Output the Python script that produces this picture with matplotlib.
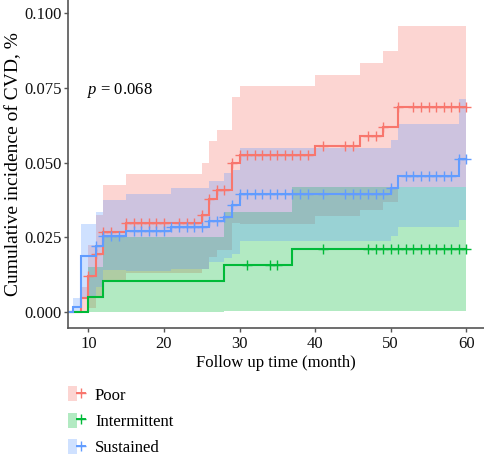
import numpy as np
import matplotlib
matplotlib.use("Agg")
import matplotlib.pyplot as plt
from matplotlib.patches import Patch
from matplotlib.lines import Line2D
from matplotlib.legend_handler import HandlerTuple

plt.rcParams['font.family'] = ['Liberation Serif', 'DejaVu Serif']
plt.rcParams['mathtext.fontset'] = 'custom'
plt.rcParams['mathtext.rm'] = 'Liberation Serif'
plt.rcParams['mathtext.it'] = 'Liberation Serif:italic'

# ---------------- data ----------------
groups = ["Poor", "Intermittent", "Sustained"]
colors = ["#F8766D", "#00BA38", "#619CFF"]
end_time = 60

poor_time = [0, 9, 10, 11, 12, 15, 25, 26, 27, 29, 30, 40, 46, 49, 51]
poor_cum = [0, 0.0048, 0.0120, 0.0193, 0.0269, 0.0297, 0.0325, 0.0378, 0.0408,
            0.0498, 0.0525, 0.0557, 0.0589, 0.0620, 0.0686]
poor_lower = [0, 0.0, 0.0012, 0.0046, 0.0107, 0.0129, 0.0145, 0.0185, 0.0207,
              0.0297, 0.0295, 0.0320, 0.0341, 0.0367, 0.0420]
poor_upper = [0, 0.0085, 0.0224, 0.0325, 0.0425, 0.0462, 0.0498, 0.0572, 0.0609,
              0.0719, 0.0756, 0.0793, 0.0834, 0.0874, 0.0957]
poor_censor = [10, 11, 12, 13, 15, 16, 17, 18, 19, 20, 22, 23, 24, 25, 26, 27, 28,
               29, 30, 31, 32, 33, 34, 35, 36, 37, 38, 39, 41, 44, 45, 47, 48, 49,
               51, 53, 54, 55, 56, 57, 58, 59, 60]

inter_time = [0, 10, 12, 28, 37]
inter_cum = [0, 0.0051, 0.0104, 0.0157, 0.0211]
inter_lower = [0, 0.0, 0.0001, 0.0002, 0.0004]
inter_upper = [0, 0.0152, 0.0252, 0.0336, 0.0418]
inter_censor = [31, 34, 35, 41, 47, 48, 49, 50, 51, 52, 53, 54, 55, 56, 57, 58, 59, 60]

sus_time = [0, 8, 9, 11, 12, 15, 21, 26, 28, 29, 30, 50, 51, 59]
sus_cum = [0, 0.0016, 0.0188, 0.0221, 0.0254, 0.0271, 0.0286, 0.0305, 0.0319,
           0.0358, 0.0395, 0.0416, 0.0456, 0.0511]
sus_lower = [0, 0.0, 0.0050, 0.0085, 0.0141, 0.0137, 0.0145, 0.0168, 0.0180,
             0.0195, 0.0236, 0.0253, 0.0286, 0.0308]
sus_upper = [0, 0.0046, 0.0295, 0.0334, 0.0375, 0.0395, 0.0414, 0.0438, 0.0464,
             0.0475, 0.0548, 0.0576, 0.0629, 0.0713]
sus_censor = [11, 12, 13, 14, 16, 17, 18, 19, 20, 21, 22, 23, 24, 25, 26, 27, 28,
              29, 30, 31, 32, 33, 34, 35, 36, 37, 38, 39, 41, 44, 45, 46, 47, 48,
              49, 50, 52, 53, 54, 55, 56, 57, 58, 59, 60]

x_ticks = [10, 20, 30, 40, 50, 60]
y_ticks = [0.000, 0.025, 0.050, 0.075, 0.100]
y_tick_labels = ["0.000", "0.025", "0.050", "0.075", "0.100"]
x_label = "Follow up time (month)"
y_label = "Cumulative incidence of CVD, %"
p_text = r"$p$ = 0.068"

series = [
    (poor_time, poor_cum, poor_lower, poor_upper, poor_censor),
    (inter_time, inter_cum, inter_lower, inter_upper, inter_censor),
    (sus_time, sus_cum, sus_lower, sus_upper, sus_censor),
]

# ---------------- plot ----------------
W, H = 484, 458
fig = plt.figure(figsize=(W / 100, H / 100), dpi=100)
ax = fig.add_axes([68.3 / W, (H - 328) / H, (W - 68.3) / W, 328 / H])

for (t, v, lo, hi, cens), c in zip(series, colors):
    tt = np.append(np.array(t, float), end_time)
    lo_a = np.append(lo, lo[-1])
    hi_a = np.append(hi, hi[-1])
    ax.fill_between(tt, lo_a, hi_a, step='post', color=c, alpha=0.3, lw=0)

for (t, v, lo, hi, cens), c in zip(series, colors):
    tt = np.append(np.array(t, float), end_time)
    vv = np.append(v, v[-1])
    ax.step(tt, vv, where='post', color=c, lw=1.5, solid_joinstyle='miter')
    idx = np.searchsorted(np.array(t, float), np.array(cens, float), side='right') - 1
    ax.plot(cens, np.array(v)[idx], ls='none', marker='+', color=c,
            markersize=7, markeredgewidth=1.0)

ax.set_xlim(7.354, 62.34)
ax.set_ylim(-0.00535, 0.10442)
ax.set_xticks(x_ticks)
ax.set_yticks(y_ticks)
ax.set_yticklabels(y_tick_labels)
for s in ['top', 'right']:
    ax.spines[s].set_visible(False)
for s in ['left', 'bottom']:
    ax.spines[s].set_color('#555555')
    ax.spines[s].set_linewidth(1.2)
ax.tick_params(axis='both', direction='out', length=3, width=1.0, color='#555555',
               labelsize=12, labelcolor='#111111')
ax.tick_params(axis='y', pad=1.5)
ax.tick_params(axis='x', pad=3)
ax.set_xlabel(x_label, fontsize=12, labelpad=2)
ax.set_ylabel(y_label, fontsize=14, labelpad=2)

ax.text(0.045, 0.7256, p_text, transform=ax.transAxes, fontsize=12,
        ha='left', va='center')

handles = []
for c in colors:
    handles.append((Patch(facecolor=c, alpha=0.3, edgecolor='none'),
                    Line2D([], [], color=c, lw=1.4, marker='+', markersize=6.5,
                           markeredgewidth=1.0)))
leg = fig.legend(handles, groups, handler_map={tuple: HandlerTuple(ndivide=None)},
                 loc='upper left', bbox_to_anchor=(60 / W, 1 - 378 / H),
                 frameon=False, fontsize=12, handlelength=1.0, handleheight=1.0,
                 handletextpad=0.6, labelspacing=0.55, borderpad=0.0)

fig.savefig("out.png", dpi=100)
